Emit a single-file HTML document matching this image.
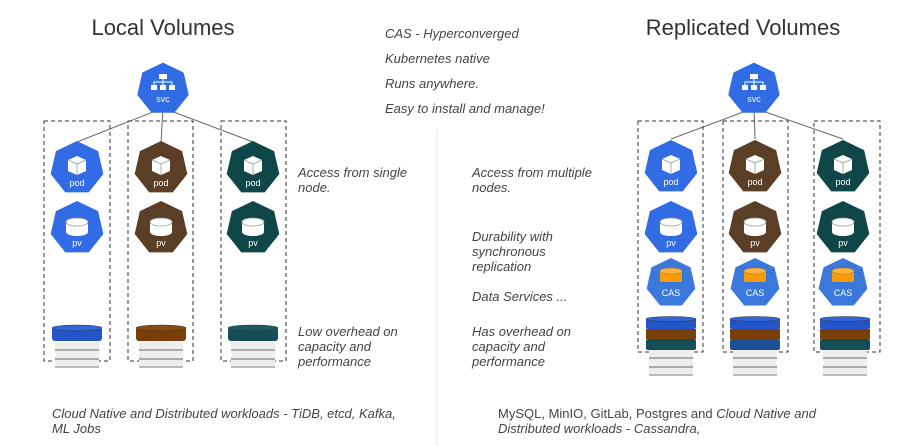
<!DOCTYPE html>
<html><head><meta charset="utf-8"><style>
body{margin:0;background:#fff}
svg{display:block}
text{font-family:"Liberation Sans",sans-serif}
.t{font-size:13px;font-style:italic;fill:#444}
.h{font-size:22px;fill:#333}
.lbl{font-size:9px;fill:#fff;text-anchor:middle}
</style></head><body>
<svg width="908" height="446" viewBox="0 0 908 446" xmlns="http://www.w3.org/2000/svg">
<defs>
<polygon id="hep" points="0,-1 0.782,-0.623 0.975,0.223 0.434,0.901 -0.434,0.901 -0.975,0.223 -0.782,-0.623" stroke-linejoin="round"/>
<g id="cube"><path d="M-9,-14 L0,-18 L9,-14 L9,-3 L0,1 L-9,-3 Z" fill="#fff"/><path d="M-9,-14 L0,-10 L9,-14 M0,-10 L0,1" stroke="#999" stroke-width="0.8" fill="none"/></g>
<g id="cyl"><rect x="-11" y="-12" width="22" height="10" fill="#fff"/><ellipse cx="0" cy="-12" rx="11" ry="4" fill="#fff" stroke="#999" stroke-width="0.8"/><ellipse cx="0" cy="-2" rx="11" ry="4" fill="#fff"/></g>
<g id="srv"><rect x="-22" y="0" width="44" height="26" fill="#eee"/><rect x="-22" y="7" width="44" height="2" fill="#aaa"/><rect x="-22" y="16" width="44" height="2" fill="#aaa"/><rect x="-22" y="24" width="44" height="2" fill="#bbb"/></g>
</defs>
<line x1="437" y1="130" x2="437" y2="446" stroke="#f0f0f0" stroke-width="1.5"/>
<text class="h" x="163" y="35" text-anchor="middle">Local Volumes</text>
<text class="h" x="743" y="35" text-anchor="middle">Replicated Volumes</text>
<text class="t" x="385" y="38">CAS - Hyperconverged</text>
<text class="t" x="385" y="63">Kubernetes native</text>
<text class="t" x="385" y="88">Runs anywhere.</text>
<text class="t" x="385" y="113">Easy to install and manage!</text>

<!-- left -->
<g stroke="#666" stroke-width="1" fill="none">
<line x1="163" y1="108" x2="77" y2="142"/><line x1="163" y1="108" x2="161" y2="142"/><line x1="163" y1="108" x2="253" y2="142"/>
<line x1="754" y1="108" x2="671" y2="139"/><line x1="754" y1="108" x2="755" y2="139"/><line x1="754" y1="108" x2="843" y2="139"/>
</g>
<g fill="none" stroke="#333" stroke-width="1" stroke-dasharray="4,3">
<rect x="44" y="121" width="66" height="240"/><rect x="128" y="121" width="65" height="240"/><rect x="221" y="121" width="65" height="240"/>
<rect x="638" y="121" width="65" height="231"/><rect x="723" y="121" width="65" height="231"/><rect x="814" y="121" width="66" height="231"/>
</g>
<!-- svc -->
<g transform="translate(163,89)"><use href="#hep" transform="scale(25)" fill="#326ce5" stroke="#326ce5" stroke-width="0.1"/>
<g fill="#fff"><rect x="-4" y="-15" width="8" height="5"/><rect x="-12" y="-4" width="6" height="5"/><rect x="-3" y="-4" width="6" height="5"/><rect x="6" y="-4" width="6" height="5"/></g>
<path d="M0,-10V-7M-9,-4V-7H9V-4M0,-7V-4" stroke="#fff" fill="none"/><text class="lbl" x="0" y="13">svc</text></g>
<g transform="translate(754,89)"><use href="#hep" transform="scale(25)" fill="#326ce5" stroke="#326ce5" stroke-width="0.1"/>
<g fill="#fff"><rect x="-4" y="-15" width="8" height="5"/><rect x="-12" y="-4" width="6" height="5"/><rect x="-3" y="-4" width="6" height="5"/><rect x="6" y="-4" width="6" height="5"/></g>
<path d="M0,-10V-7M-9,-4V-7H9V-4M0,-7V-4" stroke="#fff" fill="none"/><text class="lbl" x="0" y="13">svc</text></g>

<!-- pods & pvs -->
<g transform="translate(77,168)"><use href="#hep" transform="scale(27)" fill="#326ce5"/><use href="#cube" transform="translate(0,6)"/><text class="lbl" x="0" y="18">pod</text></g>
<g transform="translate(161,168)"><use href="#hep" transform="scale(27)" fill="#5a3e26"/><use href="#cube" transform="translate(0,6)"/><text class="lbl" x="0" y="18">pod</text></g>
<g transform="translate(253,168)"><use href="#hep" transform="scale(27)" fill="#0f4648"/><use href="#cube" transform="translate(0,6)"/><text class="lbl" x="0" y="18">pod</text></g>
<g transform="translate(77,228)"><use href="#hep" transform="scale(27)" fill="#326ce5"/><use href="#cyl" transform="translate(0,6)"/><text class="lbl" x="0" y="18">pv</text></g>
<g transform="translate(161,228)"><use href="#hep" transform="scale(27)" fill="#5a3e26"/><use href="#cyl" transform="translate(0,6)"/><text class="lbl" x="0" y="18">pv</text></g>
<g transform="translate(253,228)"><use href="#hep" transform="scale(27)" fill="#0f4648"/><use href="#cyl" transform="translate(0,6)"/><text class="lbl" x="0" y="18">pv</text></g>

<g transform="translate(671,167)"><use href="#hep" transform="scale(27)" fill="#326ce5"/><use href="#cube" transform="translate(0,6)"/><text class="lbl" x="0" y="18">pod</text></g>
<g transform="translate(755,167)"><use href="#hep" transform="scale(27)" fill="#5a3e26"/><use href="#cube" transform="translate(0,6)"/><text class="lbl" x="0" y="18">pod</text></g>
<g transform="translate(843,167)"><use href="#hep" transform="scale(27)" fill="#0f4648"/><use href="#cube" transform="translate(0,6)"/><text class="lbl" x="0" y="18">pod</text></g>
<g transform="translate(671,228)"><use href="#hep" transform="scale(27)" fill="#326ce5"/><use href="#cyl" transform="translate(0,6)"/><text class="lbl" x="0" y="18">pv</text></g>
<g transform="translate(755,228)"><use href="#hep" transform="scale(27)" fill="#5a3e26"/><use href="#cyl" transform="translate(0,6)"/><text class="lbl" x="0" y="18">pv</text></g>
<g transform="translate(843,228)"><use href="#hep" transform="scale(27)" fill="#0f4648"/><use href="#cyl" transform="translate(0,6)"/><text class="lbl" x="0" y="18">pv</text></g>
<!-- CAS -->
<g id="cas1" transform="translate(671,283)"><use href="#hep" transform="scale(25)" fill="#3a78dc"/>
<rect x="-11" y="-12" width="22" height="11" rx="2" fill="#f59b0c"/><ellipse cx="0" cy="-12" rx="11" ry="3" fill="#f7b34a" stroke="#c77700" stroke-width="0.6"/><text class="lbl" x="0" y="13">CAS</text></g>
<g transform="translate(755,283)"><use href="#hep" transform="scale(25)" fill="#3a78dc"/>
<rect x="-11" y="-12" width="22" height="11" rx="2" fill="#f59b0c"/><ellipse cx="0" cy="-12" rx="11" ry="3" fill="#f7b34a" stroke="#c77700" stroke-width="0.6"/><text class="lbl" x="0" y="13">CAS</text></g>
<g transform="translate(843,283)"><use href="#hep" transform="scale(25)" fill="#3a78dc"/>
<rect x="-11" y="-12" width="22" height="11" rx="2" fill="#f59b0c"/><ellipse cx="0" cy="-12" rx="11" ry="3" fill="#f7b34a" stroke="#c77700" stroke-width="0.6"/><text class="lbl" x="0" y="13">CAS</text></g>

<!-- left disks -->
<g transform="translate(77,0)"><use href="#srv" transform="translate(0,342)"/><rect x="-25" y="327" width="50" height="14" rx="3" fill="#2355c8"/><ellipse cx="0" cy="328" rx="25" ry="3" fill="#2f66dd" stroke="#333" stroke-width="0.6"/></g>
<g transform="translate(161,0)"><use href="#srv" transform="translate(0,342)"/><rect x="-25" y="327" width="50" height="14" rx="3" fill="#7a3f08"/><ellipse cx="0" cy="328" rx="25" ry="3" fill="#8b4a10" stroke="#333" stroke-width="0.6"/></g>
<g transform="translate(253,0)"><use href="#srv" transform="translate(0,342)"/><rect x="-25" y="327" width="50" height="14" rx="3" fill="#154e56"/><ellipse cx="0" cy="328" rx="25" ry="3" fill="#1c5b63" stroke="#333" stroke-width="0.6"/></g>
<!-- right stacks -->
<g transform="translate(671,0)"><use href="#srv" transform="translate(0,350)"/><rect x="-25" y="318" width="50" height="11" rx="2" fill="#2355c8"/><rect x="-25" y="329" width="50" height="10" fill="#7a3f08"/><rect x="-25" y="339" width="50" height="11" rx="2" fill="#154e56"/><ellipse cx="0" cy="319" rx="25" ry="2.5" fill="#2f66dd" stroke="#333" stroke-width="0.5"/></g>
<g transform="translate(755,0)"><use href="#srv" transform="translate(0,350)"/><rect x="-25" y="318" width="50" height="11" rx="2" fill="#2355c8"/><rect x="-25" y="329" width="50" height="10" fill="#7a3f08"/><rect x="-25" y="339" width="50" height="11" rx="2" fill="#1d4f94"/><ellipse cx="0" cy="319" rx="25" ry="2.5" fill="#2f66dd" stroke="#333" stroke-width="0.5"/></g>
<g transform="translate(845,0)"><use href="#srv" transform="translate(0,350)"/><rect x="-25" y="318" width="50" height="11" rx="2" fill="#2355c8"/><rect x="-25" y="329" width="50" height="10" fill="#7a3f08"/><rect x="-25" y="339" width="50" height="11" rx="2" fill="#154e56"/><ellipse cx="0" cy="319" rx="25" ry="2.5" fill="#2f66dd" stroke="#333" stroke-width="0.5"/></g>

<!-- descriptions -->
<text class="t" x="298" y="177">Access from single</text>
<text class="t" x="298" y="192">node.</text>
<text class="t" x="298" y="336">Low overhead on</text>
<text class="t" x="298" y="351">capacity and</text>
<text class="t" x="298" y="366">performance</text>
<text class="t" x="472" y="177">Access from multiple</text>
<text class="t" x="472" y="192">nodes.</text>
<text class="t" x="472" y="241">Durability with</text>
<text class="t" x="472" y="256">synchronous</text>
<text class="t" x="472" y="271">replication</text>
<text class="t" x="472" y="301">Data Services ...</text>
<text class="t" x="472" y="336">Has overhead on</text>
<text class="t" x="472" y="351">capacity and</text>
<text class="t" x="472" y="366">performance</text>
<text class="t" x="52" y="418">Cloud Native and Distributed workloads  - TiDB, etcd, Kafka,</text>
<text class="t" x="52" y="433">ML Jobs</text>
<text x="498" y="418" style="font-size:13px;fill:#444">MySQL, MinIO, GitLab, Postgres and <tspan font-style="italic">Cloud Native and</tspan></text>
<text class="t" x="498" y="433">Distributed workloads  - Cassandra,</text>
</svg>
</body></html>
